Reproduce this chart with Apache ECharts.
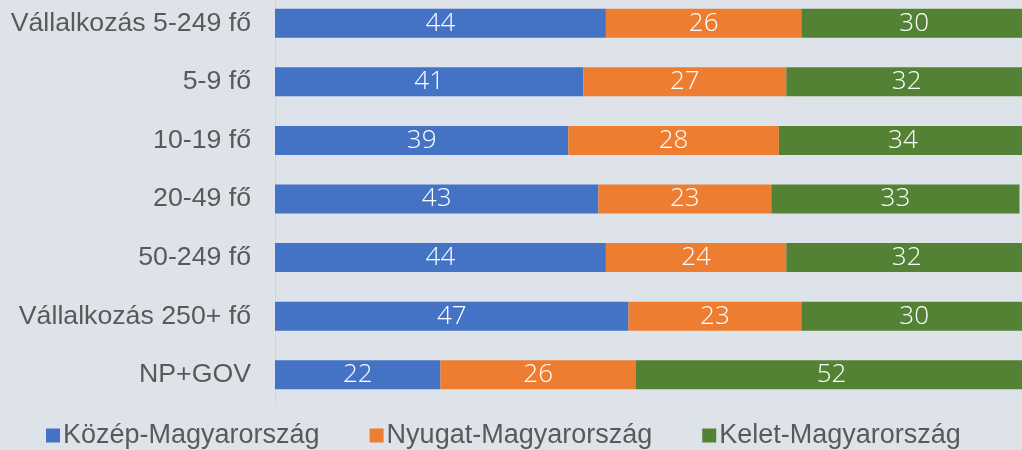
<!DOCTYPE html>
<html>
<head>
<meta charset="utf-8">
<script src="https://cdn.jsdelivr.net/npm/echarts@6/dist/echarts.min.js"></script>
<style>
  html, body { margin: 0; padding: 0; background: #dee3ea; overflow: hidden; width: 1022px; height: 450px; position: relative; }
  #chart { position: absolute; left: 0; top: -6px; width: 1034px; height: 456px; }
</style>
</head>
<body>
<div id="chart"></div>
<script>
// Regional distribution (%) by organisation size
const categories = [
  'Vállalkozás 5-249 fő',
  '5-9 fő',
  '10-19 fő',
  '20-49 fő',
  '50-249 fő',
  'Vállalkozás 250+ fő',
  'NP+GOV'
];
const seriesNames = ['Közép-Magyarország', 'Nyugat-Magyarország', 'Kelet-Magyarország'];
const kozep  = [44, 41, 39, 43, 44, 47, 22];
const nyugat = [26, 27, 28, 23, 24, 23, 26];
const kelet  = [30, 32, 34, 33, 32, 30, 52];
const colors = ['#4472c4', '#ed7d31', '#548235'];

const chart = echarts.init(document.getElementById('chart'));

const labelStyle = {
  show: true,
  position: 'inside',
  color: '#ffffff',
  fontFamily: 'Open Sans',
  fontWeight: 300,
  fontSize: 26
};

function bar(name, data, color) {
  return {
    name: name,
    type: 'bar',
    stack: 'total',
    data: data,
    barWidth: 29,
    itemStyle: { color: color },
    label: labelStyle,
    emphasis: { disabled: true }
  };
}

chart.setOption({
  backgroundColor: '#dee3ea',
  animation: false,
  grid: { left: 275, top: 0, width: 752, height: 410, containLabel: false },
  legend: {
    top: 428,
    left: 46,
    padding: 0,
    itemWidth: 14,
    itemHeight: 14,
    itemGap: 50,
    icon: 'rect',
    textStyle: { color: '#595959', fontFamily: 'Liberation Sans', fontSize: 27, padding: [0, 0, 0, -2] },
    data: seriesNames
  },
  xAxis: {
    type: 'value',
    min: 0,
    max: 100,
    show: false
  },
  yAxis: {
    type: 'category',
    inverse: true,
    data: categories,
    axisLine: { show: true, lineStyle: { color: '#d3d6da', width: 1 } },
    axisTick: { show: false },
    axisLabel: {
      color: '#595959',
      fontFamily: 'Liberation Sans',
      fontSize: 26.7,
      margin: 24
    }
  },
  series: [
    bar(seriesNames[0], kozep, colors[0]),
    bar(seriesNames[1], nyugat, colors[1]),
    bar(seriesNames[2], kelet, colors[2])
  ]
});
</script>
</body>
</html>
